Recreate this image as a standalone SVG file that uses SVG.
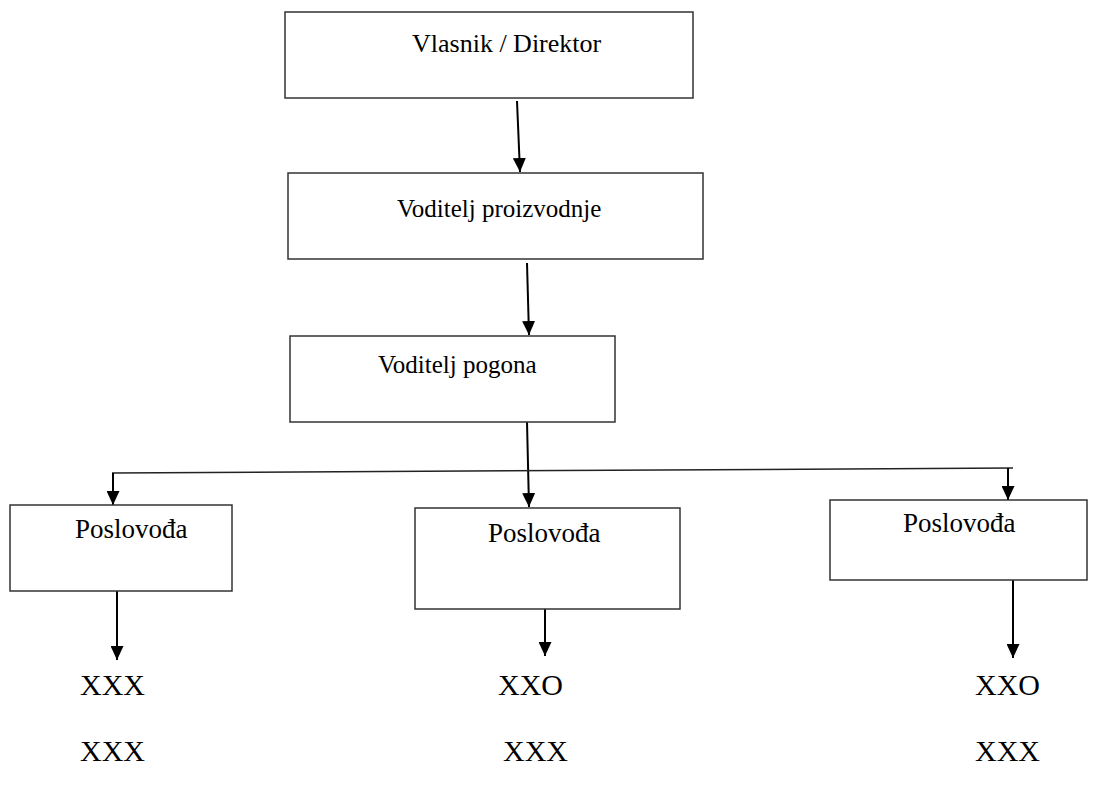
<svg xmlns="http://www.w3.org/2000/svg" width="1100" height="789" viewBox="0 0 1100 789">
  <style>
    .box { fill: #ffffff; stroke: #333333; stroke-width: 1.5; }
    .lbl { font-family: "Liberation Serif", "Times New Roman", serif; font-size: 25px; fill: #000000; }
    .big { font-size: 26px; }
    .sub { font-size: 27px; }
    .code { font-size: 30px; }
    .conn { stroke: #000000; stroke-width: 2; fill: none; }
    .branch { stroke: #222222; stroke-width: 1.5; fill: none; }
  </style>
  <defs>
    <marker id="arrow" markerUnits="userSpaceOnUse" markerWidth="14" markerHeight="13" viewBox="0 0 14 13" refX="14" refY="6.5" orient="auto">
      <path d="M0,0 L14,6.5 L0,13 Z" fill="#000000"/>
    </marker>
  </defs>

  <rect width="1100" height="789" fill="#ffffff"/>

  <!-- connectors -->
  <g id="connectors">
    <line class="conn" x1="517" y1="101" x2="520" y2="172" marker-end="url(#arrow)"/>
    <line class="conn" x1="527" y1="263" x2="529" y2="335" marker-end="url(#arrow)"/>
    <line class="conn" x1="527" y1="422" x2="529" y2="507" marker-end="url(#arrow)"/>
    <line class="branch" x1="112" y1="473" x2="1013" y2="468"/>
    <line class="conn" x1="113" y1="473" x2="113" y2="505" marker-end="url(#arrow)"/>
    <line class="conn" x1="1008" y1="468" x2="1008" y2="500" marker-end="url(#arrow)"/>
    <line class="conn" x1="117" y1="591" x2="117" y2="660" marker-end="url(#arrow)"/>
    <line class="conn" x1="545" y1="609" x2="545" y2="656" marker-end="url(#arrow)"/>
    <line class="conn" x1="1013" y1="580" x2="1013" y2="658" marker-end="url(#arrow)"/>
  </g>

  <!-- org chart boxes -->
  <g id="vlasnik">
    <rect class="box" x="285" y="12" width="408" height="86"/>
    <text class="lbl big" x="412" y="52">Vlasnik / Direktor</text>
  </g>
  <g id="voditelj-proizvodnje">
    <rect class="box" x="288" y="173" width="415" height="86"/>
    <text class="lbl" x="397" y="217">Voditelj proizvodnje</text>
  </g>
  <g id="voditelj-pogona">
    <rect class="box" x="290" y="336" width="325" height="86"/>
    <text class="lbl" x="378" y="373">Voditelj pogona</text>
  </g>
  <g id="poslovoda-1">
    <rect class="box" x="10" y="505" width="222" height="86"/>
    <text class="lbl sub" x="75" y="538">Poslovođa</text>
  </g>
  <g id="poslovoda-2">
    <rect class="box" x="415" y="508" width="265" height="101"/>
    <text class="lbl sub" x="488" y="542">Poslovođa</text>
  </g>
  <g id="poslovoda-3">
    <rect class="box" x="830" y="500" width="257" height="80"/>
    <text class="lbl sub" x="903" y="532">Poslovođa</text>
  </g>

  <!-- worker codes -->
  <g id="codes-1">
    <text class="lbl code" x="80" y="695">XXX</text>
    <text class="lbl code" x="80" y="761">XXX</text>
  </g>
  <g id="codes-2">
    <text class="lbl code" x="498" y="695">XXO</text>
    <text class="lbl code" x="503" y="761">XXX</text>
  </g>
  <g id="codes-3">
    <text class="lbl code" x="975" y="695">XXO</text>
    <text class="lbl code" x="975" y="761">XXX</text>
  </g>
</svg>
